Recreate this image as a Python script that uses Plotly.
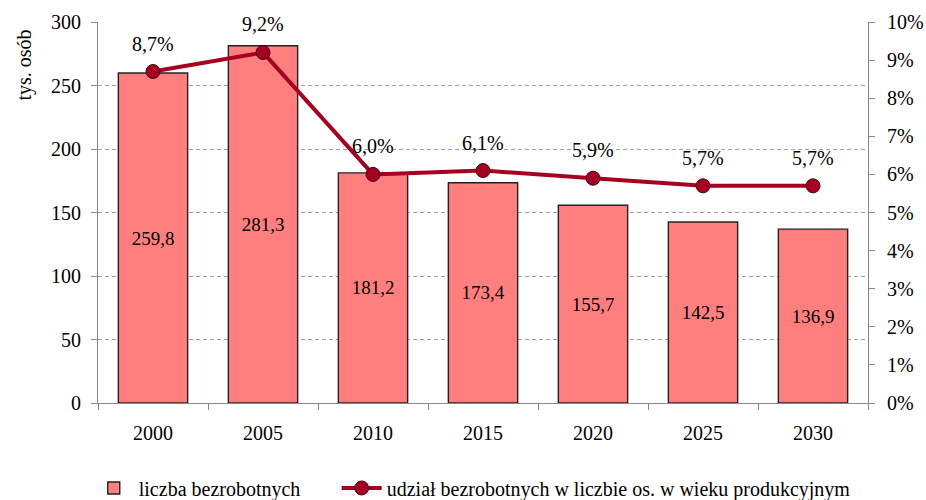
import plotly.graph_objects as go

years = ["2000", "2005", "2010", "2015", "2020", "2025", "2030"]
unemployed = [259.8, 281.3, 181.2, 173.4, 155.7, 142.5, 136.9]
share = [0.087, 0.092, 0.060, 0.061, 0.059, 0.057, 0.057]

FONT = "Liberation Serif"
BAR_COLOR = "#FF7F7F"
LINE_COLOR = "#A50021"

fig = go.Figure()
fig.add_trace(go.Bar(
    x=years, y=unemployed, name="liczba bezrobotnych",
    marker=dict(color=BAR_COLOR, line=dict(color="#222222", width=1.4)),
    width=0.63, yaxis="y",
    texttemplate="%{y:.1f}", textposition="inside", insidetextanchor="middle",
    textangle=0,
    textfont=dict(family=FONT, size=19, color="black"),
    legend="legend",
))
fig.add_trace(go.Scatter(
    x=years, y=share, name="udział bezrobotnych w liczbie os. w wieku produkcyjnym",
    mode="lines+markers", yaxis="y2",
    line=dict(color=LINE_COLOR, width=4),
    marker=dict(size=14, color=LINE_COLOR, line=dict(color="#4a0010", width=1)),
    cliponaxis=False,
    legend="legend2",
))

for i, v in enumerate(share):
    fig.add_annotation(x=i, y=v, xref="x", yref="y2", yshift=28,
                       text=f"{v*100:.1f}%".replace(".", ","), showarrow=False,
                       font=dict(family=FONT, size=20, color="black"))

fig.add_annotation(xref="paper", yref="paper", x=-0.0961, y=1.0 - 6 / 381, text="tys. osób",
                   textangle=-90, showarrow=False, xanchor="center", yanchor="top",
                   font=dict(family=FONT, size=20, color="black"))

fig.update_layout(
    width=926, height=500,
    margin=dict(l=98, r=58, t=22, b=97, autoexpand=False),
    paper_bgcolor="white", plot_bgcolor="white",
    separators=", ",
    font=dict(family=FONT, size=20, color="black"),
    bargap=0.37,
    showlegend=True,
    legend=dict(orientation="h", x=-0.012, xanchor="left", y=-0.223, yanchor="middle",
                font=dict(family=FONT, size=20, color="black"), itemwidth=40,
                bgcolor="rgba(0,0,0,0)"),
    legend2=dict(orientation="h", x=0.31, xanchor="left", y=-0.223, yanchor="middle",
                 font=dict(family=FONT, size=20, color="black"), itemwidth=40,
                 bgcolor="rgba(0,0,0,0)"),
    xaxis=dict(type="category", range=[-0.5, 6.5], showline=True, linecolor="#888888",
               ticks="outside", ticklen=6, tickcolor="#888888", tickson="boundaries",
               ticklabelstandoff=12,
               showgrid=False, tickfont=dict(family=FONT, size=20)),
    yaxis=dict(range=[0, 300], dtick=50, showline=True, linecolor="#888888",
               ticks="outside", ticklen=6, tickcolor="#888888", ticklabelstandoff=6,
               showgrid=True, gridcolor="#a0a0a0", griddash="4px,3px", gridwidth=1,
               zeroline=False, tickfont=dict(family=FONT, size=20)),
    yaxis2=dict(range=[0, 0.10], dtick=0.01, tickformat=".0%", overlaying="y", side="right",
                showline=True, linecolor="#888888", ticks="outside", ticklen=6,
                tickcolor="#888888", showgrid=False, zeroline=False, ticklabelstandoff=8,
                tickfont=dict(family=FONT, size=20)),
)

fig.write_html("out.html", config={"displayModeBar": False},
               post_script="document.body.style.margin='0px';")
